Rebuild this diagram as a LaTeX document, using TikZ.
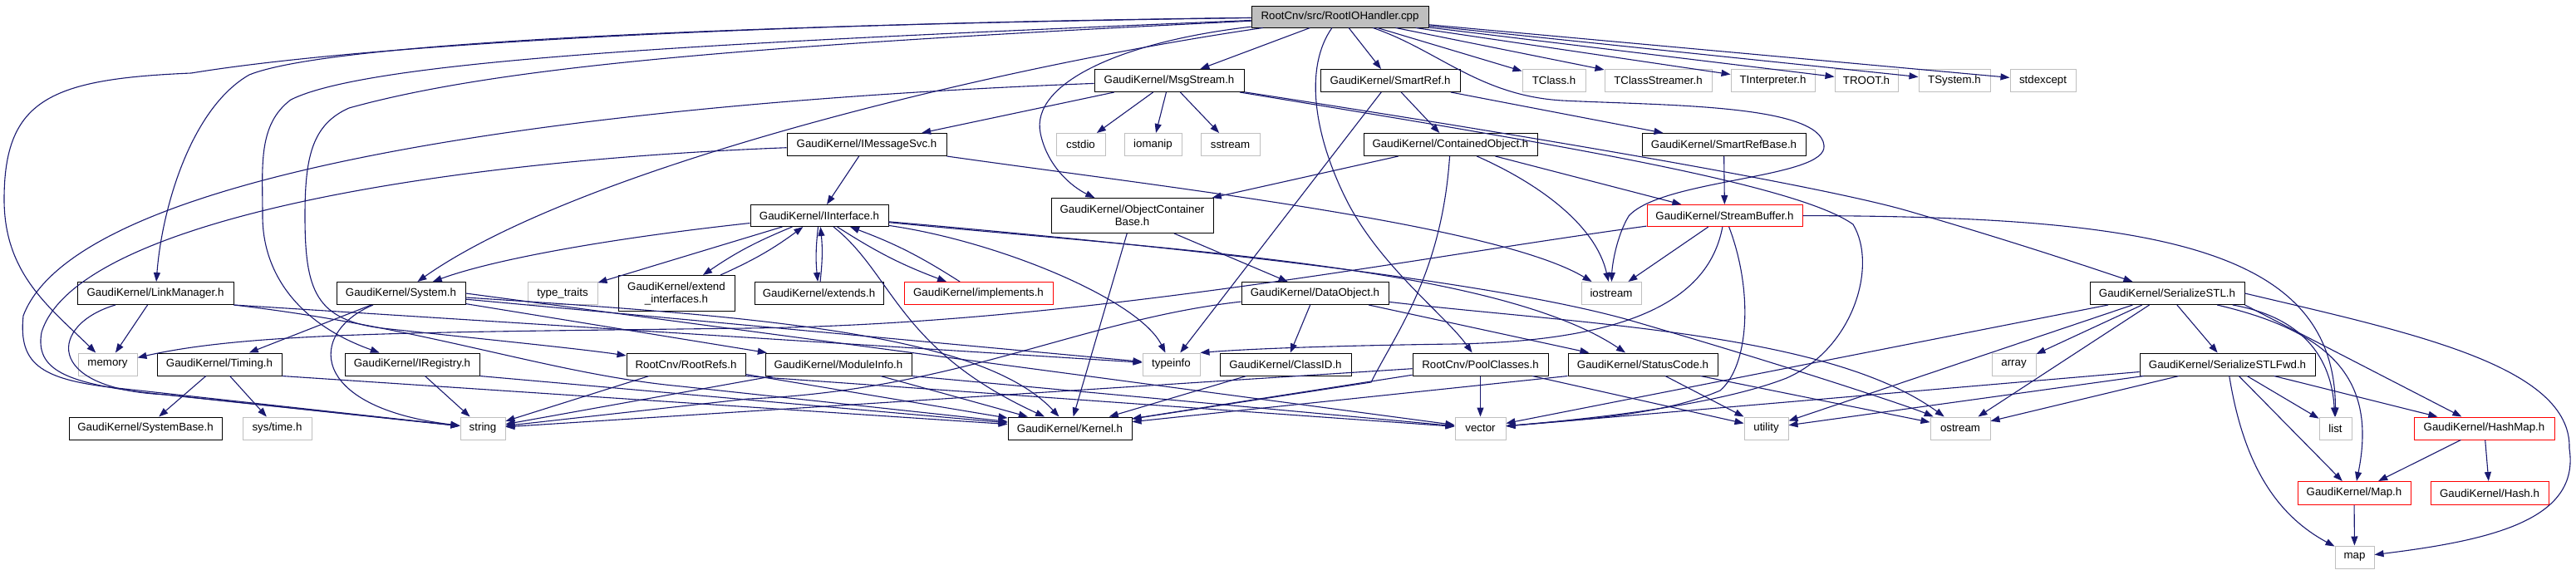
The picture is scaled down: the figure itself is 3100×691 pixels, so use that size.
\documentclass[tikz,border=0pt]{standalone}
\usepackage{fontspec}
\setmainfont{Liberation Sans}
\usepackage{xcolor}
\usepackage{tikz}
\usetikzlibrary{shapes.geometric, arrows, arrows.meta}
\definecolor{edgeblue}{RGB}{25,25,112}
\definecolor{boxgray}{RGB}{191,191,191}
\newcommand{\hdrfont}{\fontsize{13.3}{15}\selectfont}
\tikzstyle{srcfile} = [rectangle, minimum height=26pt, inner sep=0pt, text centered, draw=black, fill=boxgray, line width=1pt, font=\hdrfont]
\tikzstyle{header} = [rectangle, minimum height=27pt, inner sep=0pt, text centered, draw=black, fill=white, line width=1pt, font=\hdrfont]
\tikzstyle{syshdr} = [rectangle, minimum height=27pt, inner sep=0pt, text centered, draw=boxgray, fill=white, line width=1pt, font=\hdrfont]
\tikzstyle{cuthdr} = [rectangle, minimum height=27pt, inner sep=0pt, text centered, draw=red, fill=white, line width=1pt, font=\hdrfont]
\tikzset{arw/.style={-{Triangle[length=11pt,width=8pt]}, line width=1.1pt, draw=edgeblue}}

\begin{document}
\begin{tikzpicture}[x=1pt, y=-1pt, node distance=77pt]
			\useasboundingbox (0,0) rectangle (3100,691);
			\node (root) [srcfile, minimum width=213pt] at (1612.5,20) {RootCnv/src/RootIOHandler.cpp};
			% first row
			\node (msg) [header, minimum width=180pt, below of=root, xshift=-205.5pt] {GaudiKernel/MsgStream.h};
			\node (smartref) [header, minimum width=168pt, right of=msg, xshift=189pt] {GaudiKernel/SmartRef.h};
			\node (tclass) [syshdr, minimum width=76pt, right of=smartref, xshift=120pt] {TClass.h};
			\node (tcstream) [syshdr, minimum width=129pt, right of=tclass, xshift=48.5pt] {TClassStreamer.h};
			\node (tinterp) [syshdr, minimum width=101pt, right of=tcstream, xshift=61pt] {TInterpreter.h};
			\node (troot) [syshdr, minimum width=76pt, right of=tinterp, xshift=35.5pt] {TROOT.h};
			\node (tsystem) [syshdr, minimum width=86pt, right of=troot, xshift=29pt] {TSystem.h};
			\node (stdexc) [syshdr, minimum width=79pt, right of=tsystem, xshift=29.5pt] {stdexcept};
			% second row
			\node (imsg) [header, minimum width=192pt, below of=msg, xshift=-364pt] {GaudiKernel/IMessageSvc.h};
			\node (cstdio) [syshdr, minimum width=59pt, right of=imsg, xshift=180.5pt] {cstdio};
			\node (iomanip) [syshdr, minimum width=69pt, right of=cstdio, xshift=10pt] {iomanip};
			\node (sstream) [syshdr, minimum width=71pt, right of=iomanip, xshift=16pt] {sstream};
			\node (contobj) [header, minimum width=209pt, below of=smartref, xshift=72.5pt] {GaudiKernel/ContainedObject.h};
			\node (srbase) [header, minimum width=197pt, right of=contobj, xshift=252pt] {GaudiKernel/SmartRefBase.h};
			% third row
			\node (iface) [header, minimum width=166pt, minimum height=26pt, below of=imsg, xshift=-57pt, yshift=-8.5pt] {GaudiKernel/IInterface.h};
			\node (ocb) [header, minimum width=195pt, minimum height=42pt, align=center, right of=iface, xshift=299.5pt] {GaudiKernel/ObjectContainer\\Base.h};
			\node (sbuf) [cuthdr, minimum width=187pt, minimum height=26pt, below of=srbase, xshift=1pt, yshift=-8.5pt] {GaudiKernel/StreamBuffer.h};
			% fourth row
			\node (extends) [header, minimum width=155pt, below of=iface, xshift=-0.5pt, yshift=-16.5pt] {GaudiKernel/extends.h};
			\node (extif) [header, minimum width=140pt, minimum height=43pt, align=center, left of=extends, xshift=-94.5pt] {GaudiKernel/extend\\\_interfaces.h};
			\node (ttraits) [syshdr, minimum width=84pt, left of=extif, xshift=-60pt] {type\_traits};
			\node (system) [header, minimum width=155pt, left of=ttraits, xshift=-117.5pt] {GaudiKernel/System.h};
			\node (linkmgr) [header, minimum width=188pt, left of=system, xshift=-218.5pt] {GaudiKernel/LinkManager.h};
			\node (impl) [cuthdr, minimum width=179pt, right of=extends, xshift=115pt] {GaudiKernel/implements.h};
			\node (dataobj) [header, minimum width=177pt, below of=ocb, xshift=220pt, yshift=-16.5pt] {GaudiKernel/DataObject.h};
			\node (iostream) [syshdr, minimum width=72pt, below of=sbuf, xshift=-136.5pt, yshift=-16.5pt] {iostream};
			\node (sstl) [header, minimum width=186pt, right of=iostream, xshift=592pt] {GaudiKernel/SerializeSTL.h};
			% fifth row
			\node (memory) [syshdr, minimum width=71pt, below of=linkmgr, xshift=-57.5pt, yshift=-8.5pt] {memory};
			\node (timing) [header, minimum width=150pt, right of=memory, xshift=57.5pt] {GaudiKernel/Timing.h};
			\node (iregistry) [header, minimum width=162pt, below of=system, xshift=13.5pt, yshift=-8.5pt] {GaudiKernel/IRegistry.h};
			\node (rootrefs) [header, minimum width=143pt, right of=iregistry, xshift=252.5pt] {RootCnv/RootRefs.h};
			\node (modinfo) [header, minimum width=176pt, right of=rootrefs, xshift=106.5pt] {GaudiKernel/ModuleInfo.h};
			\node (typeinfo) [syshdr, minimum width=69pt, right of=modinfo, xshift=323.5pt] {typeinfo};
			\node (classid) [header, minimum width=158pt, right of=typeinfo, xshift=60.5pt] {GaudiKernel/ClassID.h};
			\node (poolcls) [header, minimum width=163pt, right of=classid, xshift=157.5pt] {RootCnv/PoolClasses.h};
			\node (statcode) [header, minimum width=180pt, right of=poolcls, xshift=118.5pt] {GaudiKernel/StatusCode.h};
			\node (array) [syshdr, minimum width=53pt, right of=statcode, xshift=369.5pt] {array};
			\node (sstlfwd) [header, minimum width=211pt, below of=sstl, xshift=72.5pt, yshift=-8.5pt] {GaudiKernel/SerializeSTLFwd.h};
			% sixth row
			\node (sysbase) [header, minimum width=184pt, below of=timing, xshift=-89pt] {GaudiKernel/SystemBase.h};
			\node (systime) [syshdr, minimum width=83pt, right of=sysbase, xshift=81.5pt] {sys/time.h};
			\node (string) [syshdr, minimum width=54pt, right of=systime, xshift=170.5pt] {string};
			\node (kernel) [header, minimum width=149pt, right of=string, xshift=629.5pt] {GaudiKernel/Kernel.h};
			\node (vector) [syshdr, minimum width=61pt, below of=poolcls] {vector};
			\node (utility) [syshdr, minimum width=53pt, right of=vector, xshift=267pt] {utility};
			\node (ostream) [syshdr, minimum width=72pt, right of=utility, xshift=156.5pt] {ostream};
			\node (list) [syshdr, minimum width=39pt, right of=ostream, xshift=374.5pt] {list};
			\node (hashmap) [cuthdr, minimum width=169pt, right of=list, xshift=102pt] {GaudiKernel/HashMap.h};
			% last rows
			\node (mapH) [cuthdr, minimum width=136pt, minimum height=28pt, below of=list, xshift=22.5pt, yshift=-1pt] {GaudiKernel/Map.h};
			\node (hashH) [cuthdr, minimum width=142pt, minimum height=28pt, right of=mapH, xshift=86pt] {GaudiKernel/Hash.h};
			\node (map) [syshdr, minimum width=47pt, below of=mapH, xshift=0.5pt] {map};
			
			
			\draw [arw] (root) -- (msg);
			\draw [arw] (root) -- (smartref);
			\draw [arw] (root) -- (tclass);
			\draw [arw] (root) -- (tcstream);
			\draw [arw] (root) -- (tinterp);
			\draw [arw] (root) -- (troot);
			\draw [arw] (root) -- (tsystem);
			\draw [arw] (root) -- (stdexc);
			\draw [arw] (root) .. controls (1200,80) and (700,200) .. (system);
			\draw [arw] (root) .. controls (900,30) and (400,50) .. (300,90) .. controls (230,130) and (195,250) .. (linkmgr);
			\draw [arw] (root) .. controls (800,30) and (400,60) .. (230,88) .. controls (60,95) and (5,120) .. (5,240) .. controls (5,330) and (60,370) .. (memory);
			\draw [arw] (root) .. controls (900,50) and (450,70) .. (350,120) .. controls (310,150) and (316,200) .. (316,260) .. controls (316,330) and (360,390) .. (iregistry);
			\draw [arw] (root) .. controls (900,55) and (600,80) .. (420,130) .. controls (375,150) and (367,190) .. (367,260) .. controls (367,350) and (380,385) .. (460,395) .. controls (600,410) and (700,420) .. (rootrefs);
			\draw [arw] (root) .. controls (1350,50) and (1240,100) .. (1252,160) .. controls (1260,200) and (1290,225) .. (ocb);
			\draw [arw] (root) .. controls (1570,80) and (1580,160) .. (1620,240) .. controls (1660,320) and (1740,380) .. (poolcls);
			\draw [arw] (root) .. controls (1730,60) and (1780,115) .. (1880,121) .. controls (2000,127) and (2190,125) .. (2195,175) .. controls (2200,215) and (2000,215) .. (1960,260) .. controls (1945,285) and (1940,320) .. (iostream);
			\draw [arw] (msg) -- (imsg);
			\draw [arw] (msg) -- (cstdio);
			\draw [arw] (msg) -- (iomanip);
			\draw [arw] (msg) -- (sstream);
			\draw [arw] (msg) .. controls (1850,165) and (2200,225) .. (2300,255) .. controls (2420,290) and (2510,320) .. (sstl);
			\draw [arw] (msg) .. controls (1850,170) and (2160,220) .. (2230,270) .. controls (2260,320) and (2230,420) .. (2150,455) .. controls (2060,490) and (1900,505) .. (vector);
			\draw [arw] (msg) .. controls (800,120) and (100,190) .. (28,380) .. controls (22,440) and (50,458) .. (150,468) -- (string);
			\draw [arw] (imsg) -- (iface);
			\draw [arw] (imsg.south east) .. controls (1400,225) and (1800,270) .. (iostream);
			\draw [arw] (imsg) .. controls (500,195) and (90,270) .. (50,400) .. controls (42,445) and (80,460) .. (170,472) -- (string);
			\draw [arw] (smartref) -- (contobj);
			\draw [arw] (smartref) -- (srbase);
			\draw [arw] (smartref) -- (typeinfo);
			\draw [arw] (contobj) -- (ocb);
			\draw [arw] (contobj) .. controls (1735,330) and (1680,400) .. (1650,460) -- (kernel);
			\draw [arw] (contobj) .. controls (1850,220) and (1920,270) .. (iostream);
			\draw [arw] (contobj) -- (sbuf);
			\draw [arw] (srbase) -- (sbuf);
			\draw [arw] (sbuf) -- (iostream);
			\draw [arw] (sbuf) .. controls (2600,260) and (2810,300) .. (list);
			\draw [arw] (sbuf) .. controls (2110,350) and (2105,440) .. (2070,470) .. controls (2000,500) and (1900,505) .. (vector);
			\draw [arw] (sbuf) .. controls (2060,340) and (2000,410) .. (1750,414) .. controls (1600,416) and (1500,420) .. (typeinfo.north east);
			\draw [arw] (sbuf) .. controls (1700,310) and (1300,390) .. (900,395) .. controls (500,400) and (300,400) .. (memory);
			\draw [arw] (iface) .. controls (750,285) and (600,310) .. (system);
			\draw [arw] (iface) -- (ttraits);
			\draw [arw] (iface) to[bend right=6] (extif);
			\draw [arw] (extif) to[bend right=6] (iface);
			\draw [arw] (iface) to[bend right=6] (extends);
			\draw [arw] (extends) to[bend right=6] (iface);
			\draw [arw] (iface) to[bend right=6] (impl);
			\draw [arw] (impl) to[bend right=6] (iface);
			\draw [arw] (iface) .. controls (1200,290) and (1370,360) .. (typeinfo);
			\draw [arw] (iface) .. controls (1075,330) and (1080,420) .. (kernel);
			\draw [arw] (iface) .. controls (1400,300) and (1800,320) .. (statcode);
			\draw [arw] (iface) .. controls (1450,300) and (1800,340) .. (1960,385) .. controls (2150,440) and (2300,490) .. (ostream);
			\draw [arw] (ocb) -- (dataobj);
			\draw [arw] (ocb) -- (kernel);
			\draw [arw] (dataobj) -- (classid);
			\draw [arw] (dataobj) -- (statcode);
			\draw [arw] (dataobj) .. controls (1900,390) and (2200,400) .. (ostream);
			\draw [arw] (dataobj) .. controls (1300,385) and (1150,470) .. (900,480) -- (string);
			\draw [arw] (classid) -- (kernel);
			\draw [arw] (system) -- (timing);
			\draw [arw] (system) -- (modinfo);
			\draw [arw] (system) .. controls (900,380) and (1180,400) .. (kernel);
			\draw [arw] (system) .. controls (370,400) and (370,490) .. (string);
			\draw [arw] (system.east) -- (vector);
			\draw [arw] (system) -- (typeinfo);
			\draw [arw] (linkmgr) -- (memory);
			\draw [arw] (linkmgr) .. controls (60,390) and (50,468) .. (200,475) -- (string);
			\draw [arw] (linkmgr.south east) -- (typeinfo);
			\draw [arw] (linkmgr.south east) .. controls (520,395) and (660,450) .. (820,465) -- (kernel);
			\draw [arw] (timing) -- (sysbase);
			\draw [arw] (timing) -- (systime);
			\draw [arw] (timing.south east) -- (kernel);
			\draw [arw] (iregistry) -- (string);
			\draw [arw] (iregistry.south east) -- (kernel);
			\draw [arw] (rootrefs) -- (string);
			\draw [arw] (rootrefs) -- (kernel);
			\draw [arw] (rootrefs.south east) -- (vector);
			\draw [arw] (modinfo) -- (string);
			\draw [arw] (modinfo) -- (kernel);
			\draw [arw] (modinfo.south east) -- (vector);
			\draw [arw] (poolcls) -- (vector);
			\draw [arw] (poolcls) -- (kernel);
			\draw [arw] (poolcls) -- (string);
			\draw [arw] (poolcls) -- (utility);
			\draw [arw] (statcode) -- (utility);
			\draw [arw] (statcode) -- (ostream);
			\draw [arw] (statcode.south west) -- (kernel);
			\draw [arw] (sstl) -- (array);
			\draw [arw] (sstl) -- (sstlfwd);
			\draw [arw] (sstl) -- (ostream);
			\draw [arw] (sstl) -- (vector);
			\draw [arw] (sstl) -- (utility);
			\draw [arw] (sstl) .. controls (2760,380) and (2805,420) .. (list);
			\draw [arw] (sstl) .. controls (2810,400) and (2860,460) .. (mapH);
			\draw [arw] (sstl.south east) -- (hashmap);
			\draw [arw] (sstl.east) .. controls (2900,400) and (3095,440) .. (3092,540) .. controls (3105,625) and (3000,650) .. (map);
			\draw [arw] (sstlfwd) -- (ostream);
			\draw [arw] (sstlfwd) -- (vector);
			\draw [arw] (sstlfwd) -- (utility);
			\draw [arw] (sstlfwd) -- (list);
			\draw [arw] (sstlfwd) -- (mapH);
			\draw [arw] (sstlfwd) -- (hashmap);
			\draw [arw] (sstlfwd) .. controls (2700,560) and (2740,620) .. (map);
			\draw [arw] (hashmap) -- (mapH);
			\draw [arw] (hashmap) -- (hashH);
			\draw [arw] (mapH) -- (map);
			
			
			\end{tikzpicture}
\end{document}
